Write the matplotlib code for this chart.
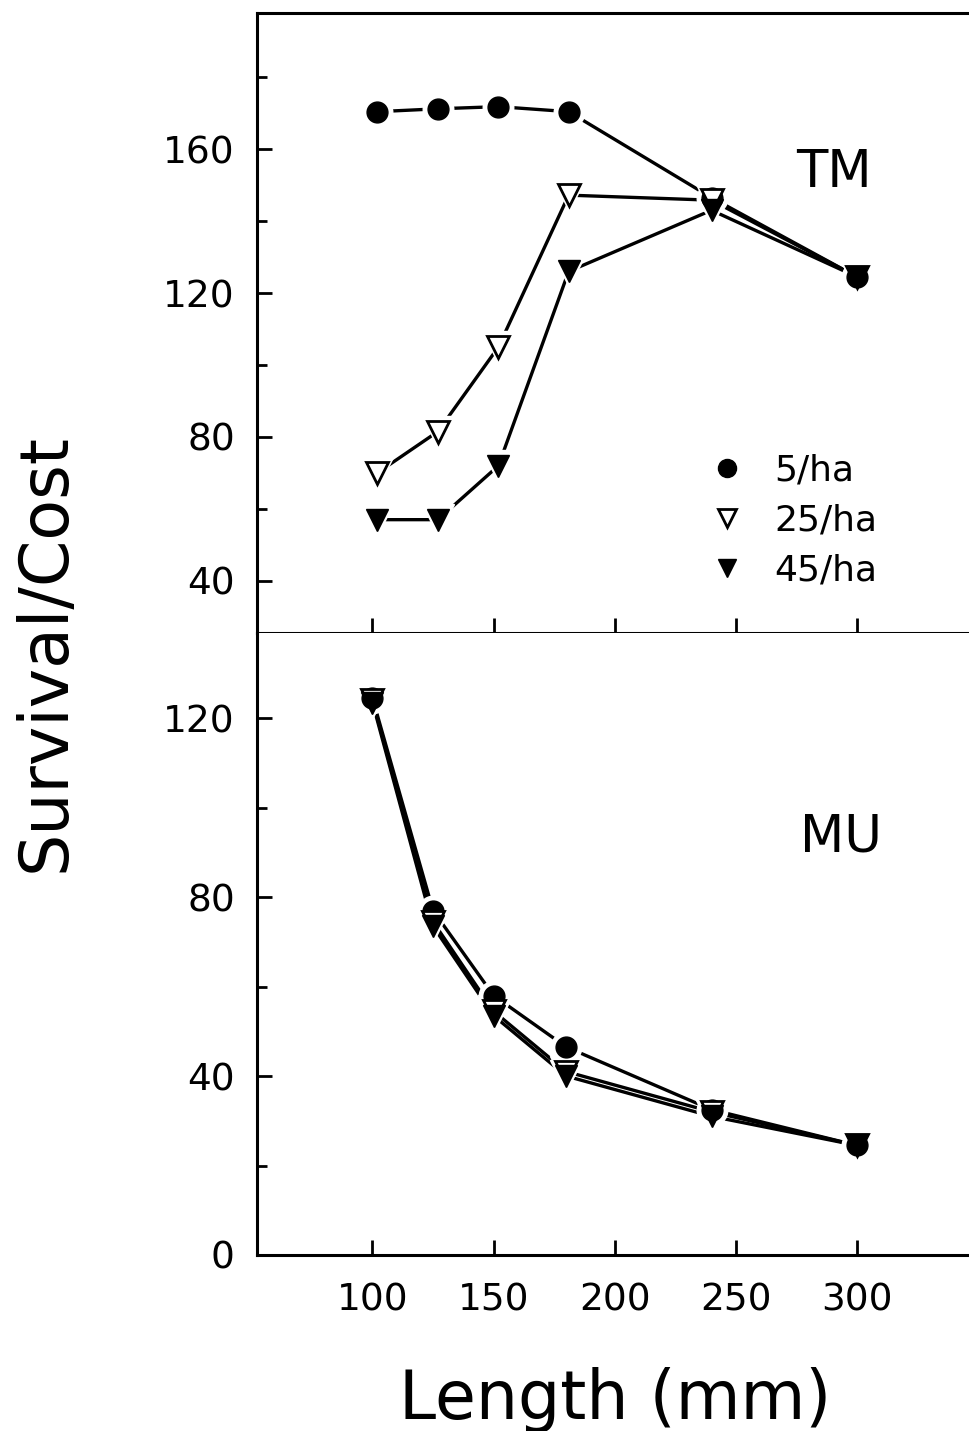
import matplotlib
matplotlib.use("Agg")
import matplotlib.pyplot as plt
from matplotlib.lines import Line2D

# lengths (mm)
len_tm = [102, 127, 152, 181, 240, 300]
len_mu = [100, 125, 150, 180, 240, 300]

# TM panel, survival/cost
tm_5 = [170.4, 171.2, 171.8, 170.4, 146.5, 124.5]
tm_25 = [70, 81.5, 105, 147.2, 145.8, 124.5]
tm_45 = [57, 57, 72, 126, 143, 124.5]

# MU panel, survival/cost
mu_5 = [124.5, 77, 58, 46.5, 32.5, 24.5]
mu_25 = [124, 74.5, 54.5, 41, 32, 24.5]
mu_45 = [123.5, 73.5, 53.5, 40, 31, 24.5]

labels = ["5/ha", "25/ha", "45/ha"]
x_ticks = [100, 150, 200, 250, 300]

plt.rcParams['font.family'] = ['DejaVu Sans']

fig = plt.figure(figsize=(9.69, 14.31), dpi=100)
ax1 = fig.add_axes([0.2652, 0.5574, 0.744, 0.4337])
ax2 = fig.add_axes([0.2652, 0.1230, 0.744, 0.4345])

lw = 2.4
styles = [
    dict(marker='o', ms=15, mfc='black', mec='black'),
    dict(marker='v', ms=16, mfc='white', mec='black', mew=2.0),
    dict(marker='v', ms=16, mfc='black', mec='black'),
]


def draw(ax, xs, series):
    for ys in series:
        ax.plot(xs, ys, color='black', lw=lw, zorder=2, solid_capstyle='butt')
    for ys, st in zip(series, styles):
        ax.plot(xs, ys, ls='none', marker=st['marker'], ms=st['ms'] + 7,
                mfc='white', mec='white', zorder=3)
    for ys, st in zip(series, styles):
        ax.plot(xs, ys, ls='none', zorder=4, **st)


draw(ax1, len_tm, [tm_5, tm_25, tm_45])
draw(ax2, len_mu, [mu_5, mu_25, mu_45])

for ax in (ax1, ax2):
    ax.spines['right'].set_visible(False)
    for s in ('left', 'bottom', 'top'):
        ax.spines[s].set_linewidth(2.2)
    ax.set_xticks(x_ticks)
    ax.set_yticks(range(20, 200, 40), minor=True)
    ax.tick_params(axis='both', which='major', direction='in', length=11,
                   width=2.0, labelsize=27, pad=16, top=False, right=False)
    ax.tick_params(axis='y', which='minor', direction='in', length=7, width=2.0)
    ax.tick_params(axis='x', which='minor', bottom=False)

ax1.set_yticks([40, 80, 120, 160])
ax1.tick_params(axis='x', labelbottom=False)
ax2.spines['top'].set_visible(False)
ax2.set_yticks([0, 40, 80, 120])
ax2.tick_params(axis='x', pad=20)

# limits after ticks so they are not expanded
ax1.set_xlim(52.3, 350)
ax2.set_xlim(52.3, 350)
ax1.set_ylim(25.4, 197.9)
ax2.set_ylim(0, 139)

ax1.text(0.80, 0.741, "TM", transform=ax1.transAxes, fontsize=37,
         ha='center', va='center')
ax2.text(0.81, 0.671, "MU", transform=ax2.transAxes, fontsize=37,
         ha='center', va='center')

handles = [Line2D([], [], ls='none', **st) for st in styles]
for h in handles:
    h.set_markersize(13)
ax1.legend(handles, labels, loc='center left', bbox_to_anchor=(0.607, 0.182),
           frameon=False, fontsize=26, handlelength=0.8, handletextpad=0.9,
           labelspacing=0.45, borderpad=0)

fig.text(0.047, 0.544, "Survival/Cost", rotation=90, fontsize=48,
         ha='center', va='center')
fig.text(0.635, 0.022, "Length (mm)", fontsize=48, ha='center', va='center')

fig.savefig("out.png", dpi=100)
